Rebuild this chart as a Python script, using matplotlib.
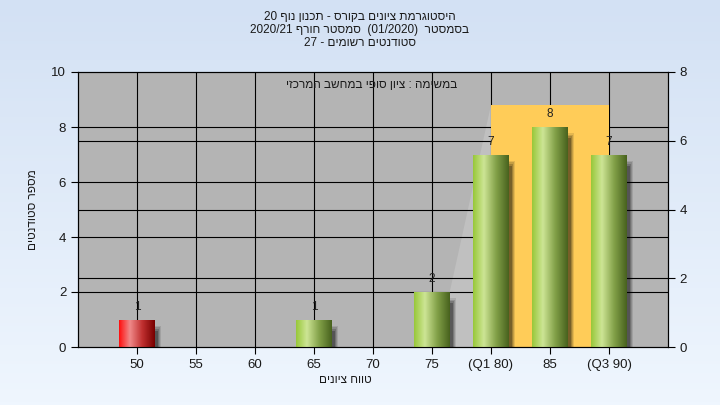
import numpy as np
import matplotlib
matplotlib.use('Agg')
import matplotlib.pyplot as plt
from matplotlib.patches import Rectangle, Polygon
plt.rcParams['font.family'] = ['Liberation Sans', 'DejaVu Sans']
plt.rcParams.update({'font.size': 9})

# data
grades = ['50', '55', '60', '65', '70', '75', '(Q1 80)', '85', '(Q3 90)']
counts = [1, 0, 0, 1, 0, 2, 7, 8, 7]
failed = [True, False, False, False, False, False, False, False, False]
q1_idx, q3_idx = 6, 8
box_top = 8.8
left_max, right_max = 10, 8

title_lines = ['היסטוגרמת ציונים בקורס - תכנון נוף 20',
               'בסמסטר  (01/2020)  סמסטר חורף 2020/21',
               'סטודנטים רשומים - 27']
note = 'במשימה : ציון סופי במחשב המרכזי'
xlabel = 'טווח ציונים'
ylabel = 'מספר סטודנטים'


def rtl(s):
    # crude right-to-left layout: flip word order, flip Hebrew words
    out = []
    for w in reversed(s.split(' ')):
        if any('\u0590' <= c <= '\u05ff' for c in w):
            out.append(w[::-1])
        else:
            out.append(w)
    return ' '.join(out)


def ramp(stops, n=64):
    pos = np.array([p for p, _ in stops])
    cols = np.array([matplotlib.colors.to_rgb(c) for _, c in stops])
    t = np.linspace(0, 1, n)
    rgb = np.stack([np.interp(t, pos, cols[:, k]) for k in range(3)], axis=-1)
    return rgb[np.newaxis, :, :]


green = ramp([(0, '#98c83a'), (0.3, '#cde595'), (0.65, '#82a048'), (1, '#48621e')])
red = ramp([(0, '#ff1010'), (0.3, '#f08a8a'), (0.65, '#c03030'), (1, '#780000')])

fig = plt.figure(figsize=(7.2, 4.05), dpi=100)

# figure background gradient
bg = fig.add_axes([0, 0, 1, 1], zorder=-10)
bg.imshow(ramp([(0, '#d3e1f4'), (1, '#eff6fe')], 128).transpose(1, 0, 2),
          aspect='auto', extent=[0, 1, 0, 1], origin='upper')
bg.axis('off')

ax = fig.add_axes([78 / 720, 1 - 347 / 405, 590 / 720, 275 / 405])
ax.set_facecolor('#b4b4b4')
idx = np.arange(len(grades))
bw = 0.6

# lighter connector from the 75 bar to the quartile box
ax.add_patch(Polygon([(q1_idx - 1 + bw / 2, counts[q1_idx - 1]), (q1_idx, box_top),
                      (q1_idx, 0), (q1_idx - 1 + bw / 2, 0)],
                     closed=True, facecolor='#c0c0c0', edgecolor='none', zorder=0.5))

# grid lines (left scale and right scale)
for y in range(2, left_max, 2):
    ax.axhline(y, color='black', lw=0.8, zorder=1)
for t in range(2, right_max, 2):
    ax.axhline(t * left_max / right_max, color='black', lw=0.8, zorder=1)
for i in idx:
    ax.axvline(i, color='black', lw=0.8, zorder=1)

# quartile box
ax.add_patch(Rectangle((q1_idx, 0), q3_idx - q1_idx, box_top, facecolor='#ffcc58',
                       edgecolor='none', zorder=1.5))

for i, (c, f) in enumerate(zip(counts, failed)):
    if c == 0:
        continue
    x0 = i - bw / 2
    # soft shadow
    for k, a in enumerate([0.10, 0.14, 0.18, 0.25]):
        off = 0.015 * k
        ax.add_patch(Rectangle((x0 + 0.08 + off, -0.1), bw + 0.02 - 2 * off, c - 0.12 - off * 4,
                               facecolor='black', edgecolor='none', alpha=a, zorder=2))
    rect = Rectangle((x0, 0), bw, c, facecolor='none', edgecolor='none', zorder=3)
    ax.add_patch(rect)
    im = ax.imshow(red if f else green, extent=[x0, x0 + bw, 0, c], aspect='auto', zorder=3)
    im.set_clip_path(rect)
    ax.text(i, c + 0.25, str(c), ha='center', va='bottom', fontsize=8.5, color='#222222', zorder=4)

ax.set_xlim(-1, len(grades))
ax.set_ylim(0, left_max)
ax.set_xticks(idx)
ax.set_xticklabels(grades, fontsize=9.5)
ax.set_yticks(range(0, left_max + 1, 2))
ax.tick_params(axis='both', direction='out', length=5, width=0.8, colors='black', labelsize=9.5,
               labelcolor='#1a1a1a')
for s in ax.spines.values():
    s.set_color('black')
    s.set_linewidth(0.8)

ax2 = ax.twinx()
ax2.set_ylim(0, right_max)
ax2.set_yticks(range(0, right_max + 1, 2))
ax2.tick_params(axis='y', direction='out', length=5, width=0.8, labelsize=9.5, labelcolor='#1a1a1a')
for s in ax2.spines.values():
    s.set_linewidth(0.8)

ax.text(0.498, 0.953, rtl(note), transform=ax.transAxes, ha='center', va='center',
        fontsize=8.5, color='#1a1a1a', zorder=5)

for k, line in enumerate(title_lines):
    fig.text(0.5, 1 - (17 + 13 * k) / 405, rtl(line), ha='center', va='center',
             fontsize=8.5, color='#1a1a1a')
fig.text(345 / 720, 1 - 380 / 405, rtl(xlabel), ha='center', va='center', fontsize=8.5,
         color='#1a1a1a')
fig.text(33 / 720, 1 - 210 / 405, rtl(ylabel), ha='center', va='center', fontsize=8.5,
         rotation=90, color='#1a1a1a')

fig.savefig('out.png', dpi=100)
